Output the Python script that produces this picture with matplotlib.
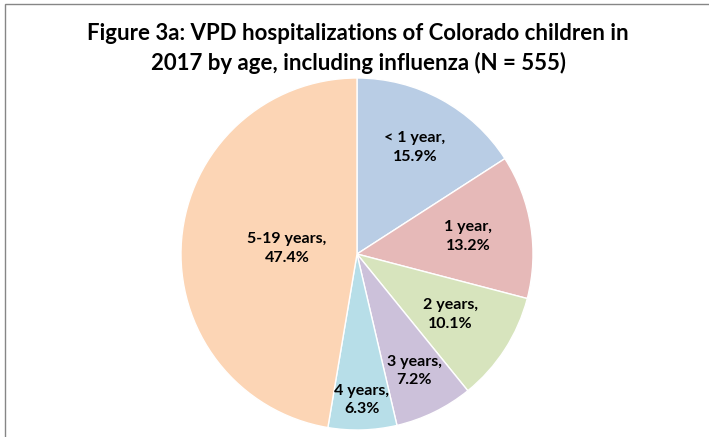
import numpy as np
import matplotlib.pyplot as plt
from matplotlib.patches import Rectangle

# age groups and their share of hospitalizations (%)
ages = ['< 1 year', '1 year', '2 years', '3 years', '4 years', '5-19 years']
shares = [15.9, 13.2, 10.1, 7.2, 6.3, 47.4]
colors = ['#B9CDE5', '#E6B9B8', '#D7E4BD', '#CCC1DA', '#B7DEE8', '#FCD5B5']
label_r = [0.69, 0.64, 0.63, 0.74, 0.83, 0.40]

plt.rcParams['font.family'] = ['Lato', 'DejaVu Sans']

fig = plt.figure(figsize=(7.09, 4.37), dpi=100)

# chart area border (cropped at right and bottom)
fig.patches.append(Rectangle((5 / 709, -0.1), 1.2, (433 / 437) + 0.1,
                             transform=fig.transFigure, fill=False,
                             edgecolor='#868686', linewidth=1))

ax = fig.add_axes([181 / 709, 7 / 437, 352 / 709, 352 / 437])
wedges, _ = ax.pie(shares, colors=colors, startangle=90, counterclock=False,
                   wedgeprops=dict(edgecolor='white', linewidth=1))

for w, age, v, r in zip(wedges, ages, shares, label_r):
    ang = np.deg2rad((w.theta1 + w.theta2) / 2)
    ax.text(r * np.cos(ang), r * np.sin(ang), f'{age},\n{v:.1f}%',
            ha='center', va='center', fontsize=11.5, fontweight='bold',
            linespacing=1.45)

ax.set_xlim(-1, 1)
ax.set_ylim(-1, 1)

fig.text(0.505, 1 - 33 / 437,
         'Figure 3a: VPD hospitalizations of Colorado children in',
         ha='center', va='center', fontsize=16, fontweight='bold')
fig.text(0.505, 1 - 63 / 437,
         '2017 by age, including influenza (N = 555)',
         ha='center', va='center', fontsize=16, fontweight='bold')

fig.savefig('out.png', dpi=100)
